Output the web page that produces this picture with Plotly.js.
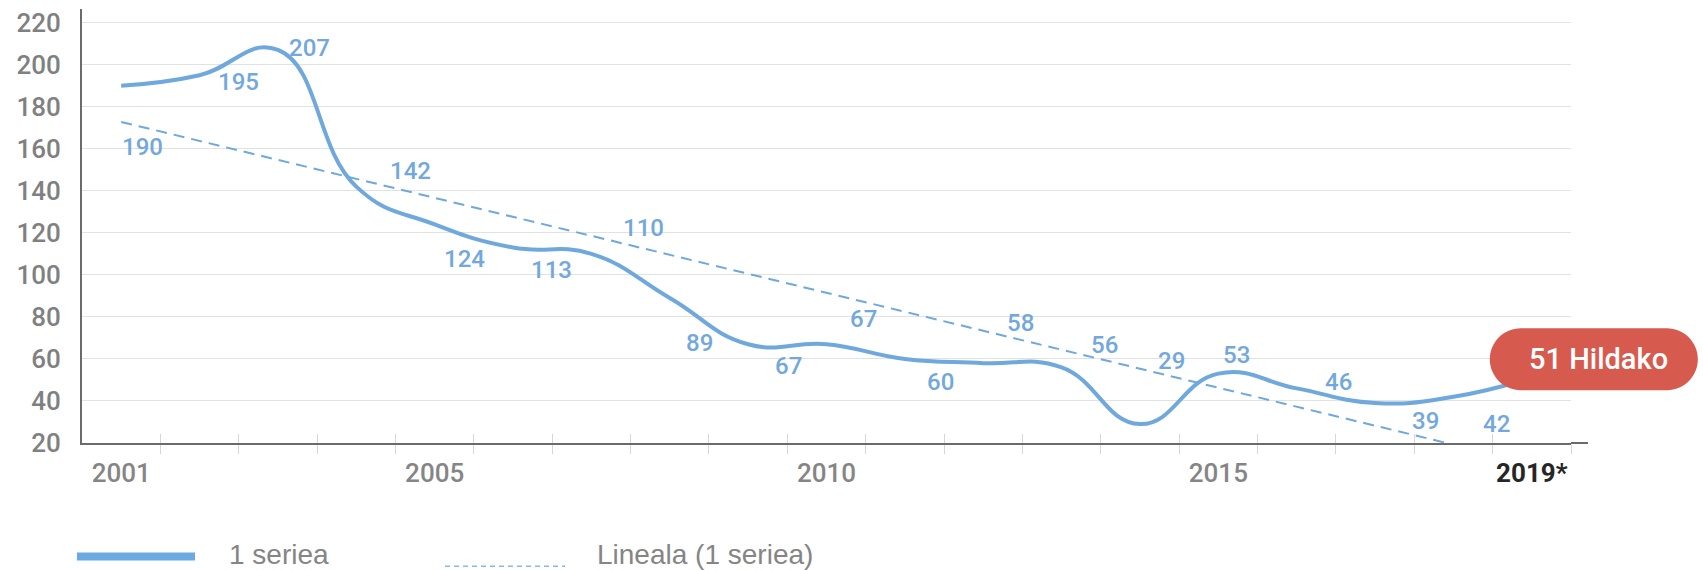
<!DOCTYPE html>
<html><head><meta charset="utf-8">
<script src="https://cdn.plot.ly/plotly-3.0.1.min.js"></script>
<style>html,body{margin:0;padding:0;background:#fff}#chart{width:1703px;height:570px}</style>
</head><body><div id="chart"></div>
<script>
// ---- data ----
const years  = [2001,2002,2003,2004,2005,2006,2007,2008,2009,2010,2011,2012,2013,2014,2015,2016,2017,2018,2019];
const deaths = [190,195,207,142,124,113,110,89,67,67,60,58,56,29,53,46,39,42,51];
const seriesName = '1 seriea';
const trendName  = 'Lineala (1 seriea)';
const xTickYears = [2001,2005,2010,2015,2019];
const xTickText  = ['2001','2005','2010','2015','2019*'];
const yTicks     = [20,40,60,80,100,120,140,160,180,200,220];
const badgeWord  = 'Hildako';

// ---- style: label offsets in px (right, down) ----
const labelDx = [21,39,32,54,30,38,52,30,40,37,36,37,43,32,18,42,50,43];
const labelDy = [61,6.5,-2,-16,35,22,-26,45,22,-25,23,-40,-22,-63,-19,-6,18,27.5];

const FONT = 'Roboto, Liberation Sans, Arial, sans-serif';
const FONT2 = 'Liberation Sans, Arial, Helvetica, sans-serif';
const BLUE = '#6fa8dc';
const xRange = [2000.5, 2019.5];
const yRange = [20, 226.5];

// linear trendline (least squares) from the data
const n = deaths.length;
const mx = years.reduce((a,b)=>a+b,0)/n;
const my = deaths.reduce((a,b)=>a+b,0)/n;
let sxy=0, sxx=0;
for (let i=0;i<n;i++){ sxy += (years[i]-mx)*(deaths[i]-my); sxx += (years[i]-mx)**2; }
const slope = sxy/sxx, icpt = my - slope*mx;
const trendY = years.map(y => icpt + slope*y);

const traces = [
  {x: years, y: trendY, name: trendName, mode: 'lines', showlegend: false,
   line: {color: BLUE, width: 2, dash: '11px,7px'}, hoverinfo: 'skip'},
  {x: years, y: deaths, name: seriesName, mode: 'lines', showlegend: false,
   line: {color: BLUE, width: 4, shape: 'spline', smoothing: 1.3}},
  // invisible helpers so the tick/label axes get drawn
  {x: years, y: deaths, xaxis:'x2', mode:'markers', marker:{opacity:0}, showlegend:false, hoverinfo:'skip'},
  {x: years, y: deaths, xaxis:'x3', mode:'markers', marker:{opacity:0}, showlegend:false, hoverinfo:'skip'}
];

const annotations = [];
for (let i=0;i<n-1;i++){
  annotations.push({x: years[i], y: deaths[i], xref:'x', yref:'y', text: String(deaths[i]),
    showarrow:false, xshift: labelDx[i], yshift: -labelDy[i],
    font:{family:FONT, size:24, weight:500, color:'#72a8dc'}});
}
// badge for last year
const li = n-1;
annotations.push({x: years[li], y: deaths[li], xref:'x', yref:'y',
  text: deaths[li] + ' ' + badgeWord, showarrow:false,
  xshift: 67, yshift: 18.6, font:{family:FONT, size:29, weight:500, color:'#ffffff'}});

// legend (manual)
annotations.push({xref:'paper', yref:'paper', x:0.0974, y:-0.258, xanchor:'left', yanchor:'middle',
  text: seriesName, showarrow:false, font:{family:FONT2, size:28, color:'#858585'}});
annotations.push({xref:'paper', yref:'paper', x:0.3445, y:-0.258, xanchor:'left', yanchor:'middle',
  text: trendName, showarrow:false, font:{family:FONT2, size:28, color:'#858585'}});

// rounded badge path in pixels around the last point
const k = 0.5523, r = 31, L = -42, R = 166, T = 49.6, B = -12.4, cy = 18.6, kr = k*r;
const pill = `M${L+r},${T} L${R-r},${T} C${R-r+kr},${T} ${R},${cy+kr} ${R},${cy} ` +
  `C${R},${cy-kr} ${R-r+kr},${B} ${R-r},${B} L${L+r},${B} ` +
  `C${L+r-kr},${B} ${L},${cy-kr} ${L},${cy} C${L},${cy+kr} ${L+r-kr},${T} ${L+r},${T} Z`;
const ax = (years[li]-xRange[0])/(xRange[1]-xRange[0]);
const ay = (deaths[li]-yRange[0])/(yRange[1]-yRange[0]);

const shapes = [
  {type:'path', xref:'paper', yref:'paper', xsizemode:'pixel', ysizemode:'pixel',
   xanchor: ax, yanchor: ay, path: pill, fillcolor:'#d75a4e', line:{width:0}, layer:'above'},
  {type:'line', xref:'paper', yref:'paper', x0:1, x1:1+17/1489, y0:0, y1:0,
   line:{color:'#6b6b6b', width:2}},
  {type:'line', xref:'paper', yref:'paper', x0:-0.0034, x1:0.0759, y0:-0.2614, y1:-0.2614,
   line:{color:'#6aaae0', width:8}},
  {type:'line', xref:'paper', yref:'paper', x0:0.2438, x1:0.3244, y0:-0.284, y1:-0.284,
   line:{color:'#8ab7e3', width:1.5, dash:'5px,4px'}}
];

const tickStyle = {tickmode:'array', tickvals: years.slice(0, n).map(y => y + 0.5),
  ticklen: 9, tickcolor:'#d6d6d6', tickwidth: 1};

const layout = {
  width: 1703, height: 570,
  margin: {l: 82, r: 132, t: 9, b: 127},
  paper_bgcolor: '#ffffff', plot_bgcolor: '#ffffff',
  showlegend: false,
  xaxis: Object.assign({range: xRange, showline: true, linecolor:'#6b6b6b', linewidth: 2,
    showgrid: false, zeroline: false, ticks: 'outside', showticklabels: false}, tickStyle),
  xaxis2: Object.assign({range: xRange, overlaying:'x', anchor:'y', showline:false, showgrid:false,
    zeroline:false, ticks:'inside', showticklabels:false}, tickStyle),
  xaxis3: {range: xRange, overlaying:'x', anchor:'y', showline:false, showgrid:false, zeroline:false,
    tickmode:'array', tickvals: xTickYears,
    ticktext: xTickText.map((t,i)=> i===xTickText.length-1 ? '<span style="color:#262626"><b>'+t+'</b></span>' : t),
    ticks:'', ticklabelstandoff: 12, tickfont:{family:FONT, size:26, weight:500, color:'#858585'}},
  yaxis: {range: yRange, showline: true, linecolor:'#6b6b6b', linewidth: 2,
    tickmode:'array', tickvals: yTicks, ticks:'', ticklabelstandoff: 14,
    showgrid: true, gridcolor:'#e2e2e2', gridwidth: 1, zeroline: false,
    tickfont:{family:FONT, size:26, weight:500, color:'#808080'}},
  annotations: annotations,
  shapes: shapes
};

Plotly.newPlot('chart', traces, layout, {displayModeBar:false, staticPlot:true});
</script></body></html>
